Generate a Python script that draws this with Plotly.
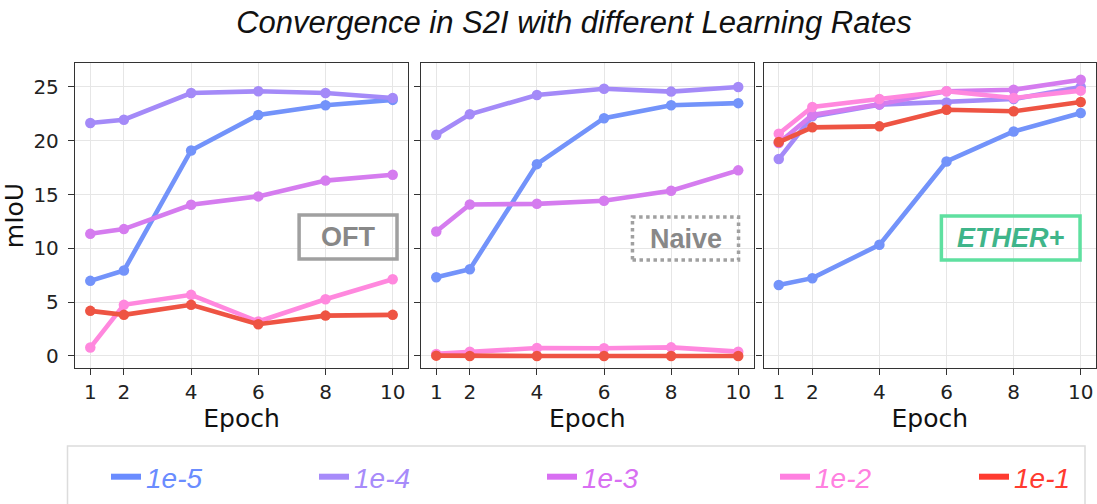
import plotly.graph_objects as go

epochs = [1, 2, 4, 6, 8, 10]
rates = ["1e-5", "1e-4", "1e-3", "1e-2", "1e-1"]

oft_1e5 = [6.98, 7.94, 19.1, 22.4, 23.3, 23.8]
oft_1e4 = [21.65, 21.96, 24.44, 24.6, 24.44, 23.98]
oft_1e3 = [11.35, 11.79, 14.05, 14.83, 16.3, 16.84]
oft_1e2 = [0.78, 4.75, 5.68, 3.2, 5.27, 7.13]
oft_1e1 = [4.19, 3.82, 4.75, 2.95, 3.75, 3.82]

naive_1e5 = [7.32, 8.06, 17.83, 22.1, 23.3, 23.5]
naive_1e4 = [20.56, 22.46, 24.26, 24.84, 24.57, 25.0]
naive_1e3 = [11.57, 14.08, 14.14, 14.42, 15.35, 17.25]
naive_1e2 = [0.19, 0.4, 0.74, 0.71, 0.8, 0.4]
naive_1e1 = [0.03, 0.0, 0.0, 0.0, 0.0, 0.0]

ether_1e5 = [6.6, 7.23, 10.33, 18.08, 20.87, 22.58]
ether_1e4 = [18.3, 22.27, 23.36, 23.57, 23.88, 25.0]
ether_1e3 = [19.8, 22.4, 23.4, 24.6, 24.75, 25.68]
ether_1e2 = [20.66, 23.14, 23.88, 24.6, 23.98, 24.66]
ether_1e1 = [19.88, 21.25, 21.34, 22.89, 22.74, 23.6]

panels = [
    ("OFT", [oft_1e5, oft_1e4, oft_1e3, oft_1e2, oft_1e1]),
    ("Naive", [naive_1e5, naive_1e4, naive_1e3, naive_1e2, naive_1e1]),
    ("ETHER+", [ether_1e5, ether_1e4, ether_1e3, ether_1e2, ether_1e1]),
]

line_colors = ["#7393fa", "#a48af8", "#d57cef", "#ff88de", "#ee5443"]
legend_colors = ["#6a8cff", "#a78bfa", "#d86ff2", "#ff80e0", "#ff3b30"]
legend_text_x = [147, 355, 583, 816, 1015]

W, H = 1097, 504
ML, MR, MT, MB = 75, 1, 63, 136
PW = W - ML - MR
PH = H - MT - MB

def px_x(p):
    return (p - ML) / PW

def px_y(p):
    return (H - MB - p) / PH

domains = [[px_x(75), px_x(408)], [px_x(421), px_x(753.5)], [px_x(763.5), px_x(1096)]]

fig = go.Figure()

axfont = dict(family="DejaVu Sans", size=20, color="#222")

for i, (pname, series) in enumerate(panels):
    xa = "x" if i == 0 else f"x{i+1}"
    ya = "y" if i == 0 else f"y{i+1}"
    for j, vals in enumerate(series):
        fig.add_trace(go.Scatter(
            x=epochs, y=vals, mode="lines+markers",
            line=dict(color=line_colors[j], width=4.6),
            marker=dict(color=line_colors[j], size=10.5),
            xaxis=xa, yaxis=ya, showlegend=False, hoverinfo="x+y",
        ))

# legend-only entries, each in its own legend for exact placement
for j, r in enumerate(rates):
    fig.add_trace(go.Scatter(
        x=[None], y=[None], mode="lines",
        line=dict(color=legend_colors[j], width=6),
        name=f"<span style='color:{legend_colors[j]}'><i>{r}</i></span>",
        showlegend=True,
        legend="legend" if j == 0 else f"legend{j+1}",
    ))

common_x = dict(
    range=[0.545, 10.455], tickvals=epochs, ticktext=[str(e) for e in epochs],
    showline=True, mirror=True, linecolor="#333", linewidth=1.3,
    ticks="outside", ticklen=6, tickwidth=1.2, tickcolor="#333",
    showgrid=True, gridcolor="#e6e6e6", gridwidth=1, zeroline=False,
    tickfont=axfont,
    title=dict(text="Epoch", font=dict(family="DejaVu Sans", size=25, color="#111"), standoff=6),
)
common_y = dict(
    range=[-1.12, 27.23], tickvals=[0, 5, 10, 15, 20, 25],
    showline=True, mirror=True, linecolor="#333", linewidth=1.3,
    ticks="outside", ticklen=6, tickwidth=1.2, tickcolor="#333",
    showgrid=True, gridcolor="#e6e6e6", gridwidth=1, zeroline=False,
    tickfont=axfont, ticklabelstandoff=5,
)

layout = dict(
    width=W, height=H,
    margin=dict(l=ML, r=MR, t=MT, b=MB, autoexpand=False),
    plot_bgcolor="white", paper_bgcolor="white",
    title=dict(
        text="<i>Convergence in S2I with different Learning Rates</i>",
        font=dict(family="Liberation Sans", size=31, color="#111"),
        x=574 / W, xanchor="center", xref="container",
        y=1 - 22 / H, yanchor="middle", yref="container",
    ),
    showlegend=True,
)

for j in range(5):
    key = "legend" if j == 0 else f"legend{j+1}"
    layout[key] = dict(
        orientation="h", x=px_x(legend_text_x[j] - 41), xanchor="left",
        y=px_y(477), yanchor="middle",
        font=dict(family="Liberation Sans", size=28),
        bgcolor="rgba(0,0,0,0)", borderwidth=0,
    )

for i in range(3):
    xk = "xaxis" if i == 0 else f"xaxis{i+1}"
    yk = "yaxis" if i == 0 else f"yaxis{i+1}"
    xa = dict(common_x, domain=domains[i], anchor="y" if i == 0 else f"y{i+1}")
    ya = dict(common_y, domain=[0, 1], anchor="x" if i == 0 else f"x{i+1}")
    if i == 0:
        ya["title"] = dict(text="mIoU", font=dict(family="DejaVu Sans", size=25, color="#111"), standoff=3)
    else:
        ya["showticklabels"] = False
    layout[xk] = xa
    layout[yk] = ya

fig.update_layout(**layout)

# method label boxes
boxes = [
    ("x domain", "y domain", 0.673, 0.967, 0.357, 0.502, "#a0a0a0", "solid", "<b>OFT</b>", "#888888"),
    ("x2 domain", "y2 domain", 0.636, 0.955, 0.354, 0.495, "#a0a0a0", "dot", "<b>Naive</b>", "#888888"),
    ("x3 domain", "y3 domain", 0.535, 0.952, 0.354, 0.498, "#5fe0a0", "solid", "<b><i>ETHER+</i></b>", "#3fb58a"),
]
for xr, yr, x0, x1, y0, y1, bc, dash, txt, tc in boxes:
    fig.add_shape(type="rect", xref=xr, yref=yr, x0=x0, x1=x1, y0=y0, y1=y1,
                  line=dict(color=bc, width=3.5, dash=dash), fillcolor="rgba(255,255,255,0)")
    fig.add_annotation(xref=xr, yref=yr, x=(x0 + x1) / 2, y=(y0 + y1) / 2,
                       text=txt, showarrow=False,
                       font=dict(family="Liberation Sans", size=27, color=tc),
                       xanchor="center", yanchor="middle")

# legend frame
fig.add_shape(type="rect", xref="paper", yref="paper",
              x0=px_x(67.5), x1=px_x(1085), y0=px_y(446), y1=px_y(520),
              line=dict(color="#dcdcdc", width=1.5), fillcolor="rgba(0,0,0,0)")

fig.write_html("out.html")
